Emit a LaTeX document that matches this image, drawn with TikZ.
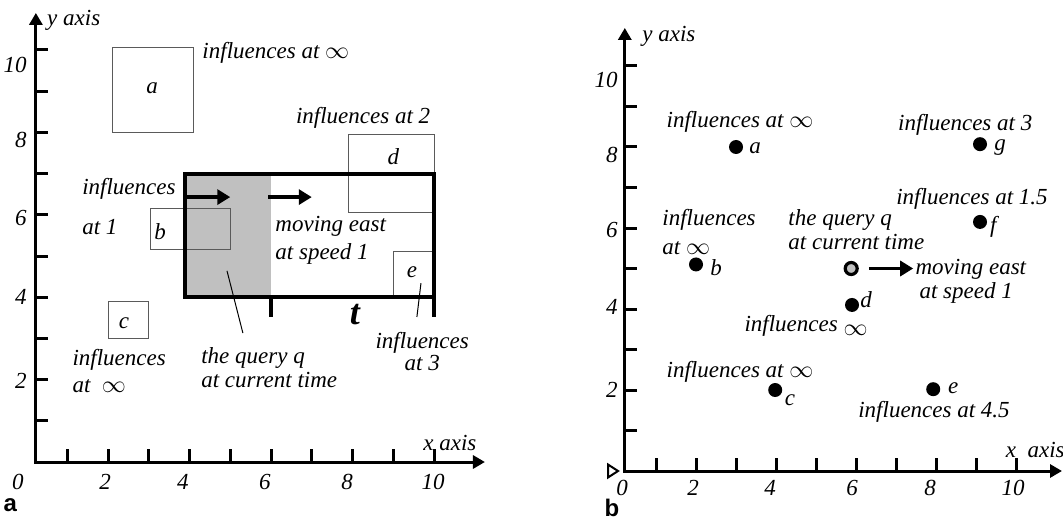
\documentclass[tikz,border=0pt]{standalone}
\usepackage{fontspec}
\setmainfont{Liberation Serif}
\newfontfamily\panelfont{Liberation Sans}
\usetikzlibrary{arrows.meta}
\definecolor{qgray}{RGB}{192,192,192}
\definecolor{boxgray}{RGB}{90,90,90}

\tikzset{
  lbl/.style={font=\fontsize{11.5}{12}\selectfont\itshape, inner sep=1pt},
  bigt/.style={font=\fontsize{18}{18}\selectfont\itshape\bfseries, inner sep=0pt},
  panel/.style={font=\fontsize{12}{13}\selectfont\panelfont\bfseries, inner sep=0pt},
  axisline/.style={line width=1.5pt, {Triangle[length=6pt,width=6.5pt]}-{Triangle[length=6pt,width=6.5pt]}},
  tickmark/.style={line width=1.5pt},
  objbox/.style={draw=boxgray, line width=0.5pt},
  movearrow/.style={line width=2pt, -{Triangle[length=6.5pt,width=7.5pt]}},
  pointer/.style={line width=0.5pt},
  obj/.style={circle, fill=black, inner sep=0pt, minimum size=7pt},
  querypt/.style={circle, draw=black, line width=1.6pt, fill=qgray, inner sep=0pt, minimum size=6pt},
}

\begin{document}
\begin{tikzpicture}
  \useasboundingbox (0,0) rectangle (531.5pt,260pt);

  %--- panel a: rectangles ---
  \begin{scope}[shift={(13.25pt,29pt)}, x=20.375pt, y=20.6pt]
    % axes
    \draw[axisline] (0.23,10.9) -- (0.23,0) -- (11.25,0);
    \foreach \x in {1,...,10} \draw[tickmark] (\x,0) -- (\x,0.32);
    \foreach \y in {1,...,10} \draw[tickmark] (0.23,\y) -- (0.53,\y);
    \foreach \x/\p in {0/-0.21,2/1.93,4/3.84,6/5.85,8/7.87,10/9.98}
      \node[lbl] (xa\x) at (\p,-0.49) {\x};
    \foreach \y/\p in {2/1.97,4/4,6/5.92,8/7.82,10/9.64}
      \node[lbl, anchor=east] (ya\y) at (0.06,\p) {\y};
    \node[lbl, anchor=west] (ylbla) at (0.45,10.73) {y axis};
    \node[lbl] (xlbla) at (10.39,0.46) {x axis};

    % query region and objects
    \fill[qgray] (3.9,4) rectangle (6,7);
    \draw[objbox] (2.1,8) rectangle (4.1,10.05);
    \draw[objbox] (3.05,5.15) rectangle (5,6.15);
    \draw[objbox] (2,3) rectangle (3,3.9);
    \draw[objbox] (7.9,6.05) rectangle (10,7.95);
    \draw[objbox] (9,4) rectangle (10,5.1);
    \draw[line width=2pt] (3.9,4) rectangle (10,7);
    \draw[line width=2pt] (6,4) -- (6,3.52);
    \draw[line width=2pt] (10,4) -- (10,3.52);

    \node[lbl] (oa) at (3.08,9.08) {a};
    \node[lbl] (ob) at (3.28,5.58) {b};
    \node[lbl] (oc) at (2.39,3.37) {c};
    \node[lbl] (od) at (9.0,7.4) {d};
    \node[lbl] (oe) at (9.46,4.61) {e};
    \node[bigt] (tlen) at (8.06,3.57) {t};

    % movement
    \coordinate (m1s) at (3.9,6.43);
    \coordinate (m1e) at (5,6.43);
    \coordinate (m2s) at (5.93,6.43);
    \coordinate (m2e) at (7,6.43);
    \draw[movearrow] (m1s) -- (m1e);
    \draw[movearrow] (m2s) -- (m2e);

    % influence labels
    \node[lbl, anchor=west] (ia) at (4.26,9.93) {influences at $\infty$};
    \node[lbl] (id) at (8.26,8.35) {influences at 2};
    \node[lbl, anchor=west, align=left] (ib) at (1.31,6.19) {influences\\[8pt]at 1};
    \node[lbl, anchor=west, align=left] (mva) at (6.05,5.39) {moving east\\[2pt]at speed 1};
    \node[lbl, anchor=west, align=left] (qa) at (4.23,2.28) {the query q\\at current time};
    \node[lbl, align=center] (ie) at (9.71,2.67) {influences\\[-1pt]at 3};
    \node[lbl, anchor=west, align=left] (ic) at (1.07,2.21) {influences\\[1.5pt]at\ \ $\infty$};

    \coordinate (qin) at (4.92,4.64);
    \coordinate (qtip) at (5.31,3.13);
    \coordinate (ein) at (9.68,4.34);
    \coordinate (etip) at (9.58,3.52);
    \draw[pointer] (qin) -- (qtip);
    \draw[pointer] (ein) -- (etip);

    \node[panel] (pa) at (-0.4,-1.04) {a};
  \end{scope}

  %--- panel b: points ---
  \begin{scope}[shift={(308pt,24.5pt)}, x=20pt, y=20.25pt]
    % axes
    \draw[axisline] (0.22,10.94) -- (0.22,0) -- (11.15,0);
    \draw[line width=1pt] (-0.2,0.16) -- (0.05,0) -- (-0.2,-0.16) -- cycle;
    \foreach \x in {1,...,10} \draw[tickmark] (\x,0) -- (\x,0.32);
    \foreach \y in {1,...,10} \draw[tickmark] (0.22,\y) -- (0.52,\y);
    \foreach \x/\p in {0/0.15,2/1.93,4/3.85,6/5.9,8/7.85,10/9.93}
      \node[lbl] (xb\x) at (\p,-0.42) {\x};
    \foreach \y/\p in {2/2,4/4.05,6/5.95,8/7.8,10/9.65}
      \node[lbl, anchor=east] (yb\y) at (0.1,\p) {\y};
    \node[lbl, anchor=west] (ylblb) at (0.6,10.72) {y axis};
    \node[lbl] (xlblb) at (10.48,0.52) {x\ \ axis};

    % objects
    \node[obj] (pta) at (3,8) {};
    \node[obj] (ptb) at (2,5.1) {};
    \node[obj] (ptc) at (3.98,2) {};
    \node[obj] (ptd) at (5.9,4.1) {};
    \node[obj] (pte) at (7.93,2.02) {};
    \node[obj] (ptf) at (9.1,6.15) {};
    \node[obj] (ptg) at (9.1,8.07) {};
    \node[querypt] (q) at (5.88,5) {};

    \node[lbl] (la) at (3.48,7.98) {a};
    \node[lbl] (lb) at (2.5,5.01) {b};
    \node[lbl] (lc) at (4.35,1.75) {c};
    \node[lbl] (ld) at (6.25,4.22) {d};
    \node[lbl] (le) at (8.43,2.05) {e};
    \node[lbl] (lf) at (9.43,6.02) {f};
    \node[lbl] (lg) at (9.6,7.98) {g};

    % influence labels
    \node[lbl] (ja) at (3.1,8.62) {influences at $\infty$};
    \node[lbl, anchor=west, align=left] (jb) at (1.1,5.9) {influences\\[2.5pt]at $\infty$};
    \node[lbl, anchor=west, align=left] (qb) at (4.25,5.95) {the query q\\at current time};
    \node[lbl, anchor=west, align=left] (mvb) at (7.43,4.69) {moving east\\\hspace{2pt}at speed 1};
    \node[lbl] (jg) at (8.73,8.54) {influences at 3};
    \node[lbl] (jf) at (8.9,6.72) {influences at 1.5};
    \node[lbl] (jd) at (4.75,3.58) {influences \raisebox{-2pt}{$\infty$}};
    \node[lbl] (jc) at (3.1,2.44) {influences at $\infty$};
    \node[lbl] (je) at (7.95,1.46) {influences at 4.5};

    \draw[movearrow, line width=1.6pt, shorten <=5pt] (q.east) -- (q.east -| mvb.west);

    \node[panel] (pb) at (-0.1,-0.91) {b};
  \end{scope}
\end{tikzpicture}
\end{document}
